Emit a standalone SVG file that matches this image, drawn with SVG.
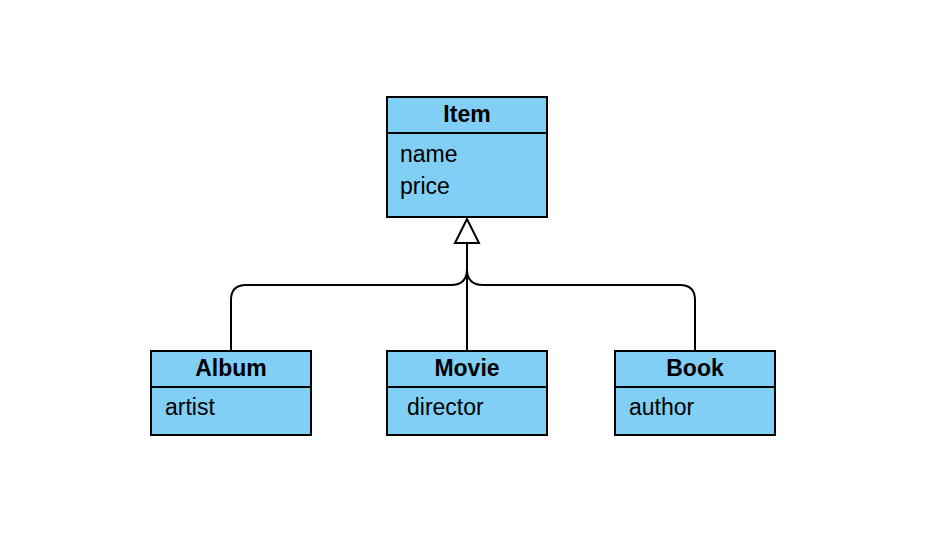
<svg xmlns="http://www.w3.org/2000/svg" width="932" height="554" viewBox="0 0 932 554">
<style>
.box{fill:#81CFF4;stroke:#000;stroke-width:2}
.div{stroke:#000;stroke-width:2}
.title{font-family:"Liberation Sans",Arial,sans-serif;font-size:23px;font-weight:bold;text-anchor:middle;fill:#000}
.attr{font-family:"Liberation Sans",Arial,sans-serif;font-size:23px;fill:#000}
.conn{fill:none;stroke:#000;stroke-width:2}
</style>
<rect width="932" height="554" fill="#fff"/>
<g id="connectors">
<path class="conn" d="M467,351 V243"/>
<path class="conn" d="M231,351 V300 Q231,285 246,285 H451 Q467,285 467,269"/>
<path class="conn" d="M695,351 V300 Q695,285 680,285 H483 Q467,285 467,269"/>
<polygon points="467,219 455,243 479,243" fill="#fff" stroke="#000" stroke-width="2" stroke-linejoin="miter"/>
</g>
<g id="item">
<rect class="box" x="387" y="97" width="160" height="120"/>
<line class="div" x1="387" y1="133" x2="547" y2="133"/>
<text class="title" x="467" y="122">Item</text>
<text class="attr" x="400" y="162">name</text>
<text class="attr" x="400" y="194">price</text>
</g>
<g id="album">
<rect class="box" x="151" y="351" width="160" height="84"/>
<line class="div" x1="151" y1="387" x2="311" y2="387"/>
<text class="title" x="231" y="376">Album</text>
<text class="attr" x="165" y="415">artist</text>
</g>
<g id="movie">
<rect class="box" x="387" y="351" width="160" height="84"/>
<line class="div" x1="387" y1="387" x2="547" y2="387"/>
<text class="title" x="467" y="376">Movie</text>
<text class="attr" x="407" y="415">director</text>
</g>
<g id="book">
<rect class="box" x="615" y="351" width="160" height="84"/>
<line class="div" x1="615" y1="387" x2="775" y2="387"/>
<text class="title" x="695" y="376">Book</text>
<text class="attr" x="629" y="415">author</text>
</g>
</svg>
